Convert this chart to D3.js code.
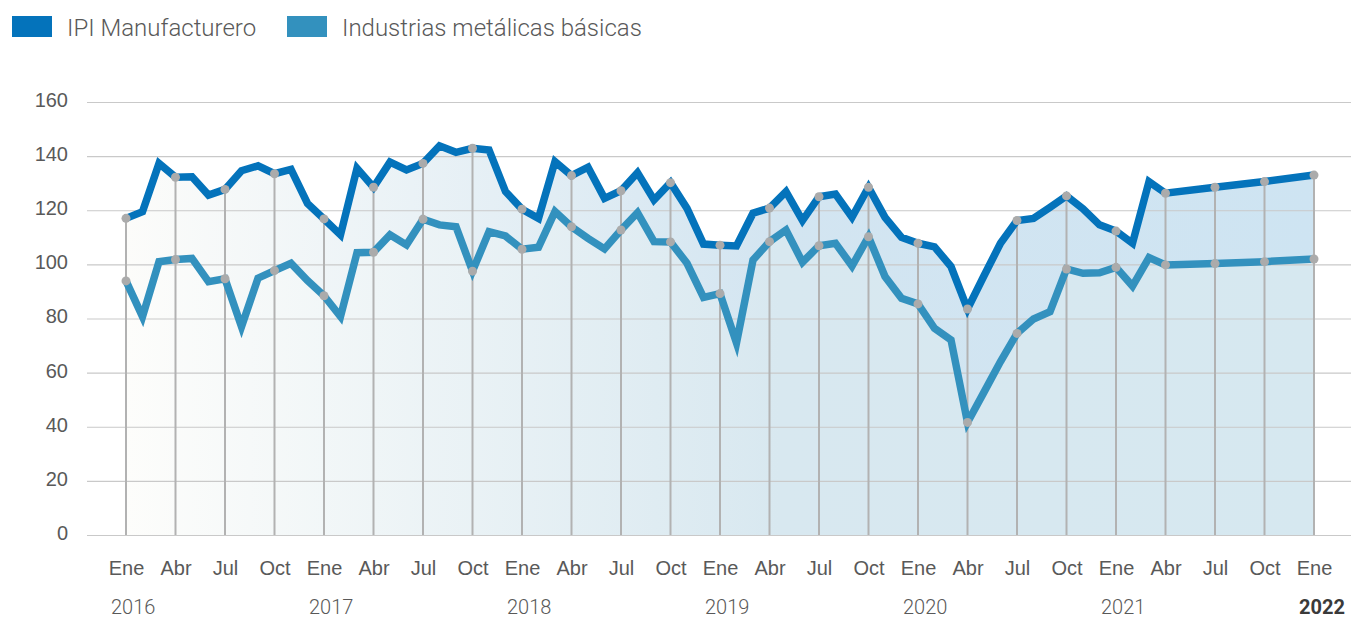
<!DOCTYPE html>
<html>
<head>
<meta charset="utf-8">
<script src="https://cdn.jsdelivr.net/npm/d3@7"></script>
<style>
  html, body { margin: 0; padding: 0; background: #fff; }
  svg { display: block; font-family: Roboto, "Open Sans", sans-serif; }
</style>
</head>
<body>
<svg id="chart" width="1351" height="619"></svg>
<script>
// month index: 0 = Ene 2016 ... 72 = Ene 2022
const monthIndex = [
  0,1,2,3,4,5,6,7,8,9,10,11,
  12,13,14,15,16,17,18,19,20,21,22,23,
  24,25,26,27,28,29,30,31,32,33,34,35,
  36,37,38,39,40,41,42,43,44,45,46,47,
  48,49,50,51,52,53,54,55,56,57,58,59,
  60,61,62,63,66,69,72
];
const ipiManufacturero = [
  117.0,119.5,137.3,132.2,132.4,125.6,127.7,134.6,136.4,133.5,135.1,122.5,
  116.8,110.9,135.5,128.5,137.8,134.9,137.3,143.8,141.4,142.9,142.3,126.9,
  120.4,117.0,138.0,132.8,135.9,124.4,127.2,133.9,123.8,130.2,120.7,107.5,
  107.1,106.8,118.9,120.8,126.9,116.2,125.0,126.0,117.4,128.5,117.4,110.0,
  107.8,106.5,99.2,83.5,95.8,107.8,116.2,117.0,121.1,125.3,120.5,114.6,
  112.3,107.8,130.6,126.3,128.5,130.6,133.0
];
const metalicasBasicas = [
  93.9,80.7,101.0,101.8,102.2,93.6,94.7,77.0,94.9,97.7,100.4,94.0,
  88.4,80.7,104.3,104.5,110.9,107.2,116.7,114.6,113.9,97.5,112.1,110.5,
  105.6,106.3,119.5,113.9,109.6,105.7,112.7,119.1,108.4,108.3,100.4,87.8,
  89.2,71.0,101.6,108.4,112.7,100.8,106.9,107.8,99.4,110.2,95.5,87.5,
  85.4,76.4,72.1,41.6,52.8,64.1,74.5,79.8,82.5,98.3,96.7,96.9,
  98.9,92.0,102.5,99.8,100.3,101.0,102.0
];
const seriesNames = ["IPI Manufacturero", "Industrias metálicas básicas"];
const seriesColors = ["#0473bb", "#3391be"];
const quarterLabels = ["Ene","Abr","Jul","Oct"];
const yearLabels = ["2016","2017","2018","2019","2020","2021","2022"];
const yTicks = [0,20,40,60,80,100,120,140,160];

const svg = d3.select("#chart");
const x = d3.scaleLinear().domain([0, 72]).range([126, 1314]);
const y = d3.scaleLinear().domain([0, 160]).range([535, 102]);

const data = monthIndex.map((m, i) => ({ m, a: ipiManufacturero[i], b: metalicasBasicas[i] }));
const quarterly = data.filter(d => d.m % 3 === 0);

// gradients
const defs = svg.append("defs");
function grad(id, c0, c1, c2) {
  const g = defs.append("linearGradient").attr("id", id)
    .attr("gradientUnits", "userSpaceOnUse")
    .attr("x1", x(0)).attr("x2", x(72)).attr("y1", 0).attr("y2", 0);
  g.append("stop").attr("offset", "0%").attr("stop-color", c0);
  g.append("stop").attr("offset", "55%").attr("stop-color", c1);
  g.append("stop").attr("offset", "100%").attr("stop-color", c2);
}
grad("gA", "#fcfcfa", "#d3e5f1", "#cee4f2");
grad("gB", "#fdfdfb", "#d8e8f0", "#d6e8f0");

const areaA = d3.area().x(d => x(d.m)).y0(y(0)).y1(d => y(d.a));
const areaB = d3.area().x(d => x(d.m)).y0(y(0)).y1(d => y(d.b));
svg.append("path").datum(data).attr("d", areaA).attr("fill", "url(#gA)");
svg.append("path").datum(data).attr("d", areaB).attr("fill", "url(#gB)");

// horizontal grid + y labels
const yAxis = d3.axisLeft(y).tickValues(yTicks).tickSize(-(1351 - 87)).tickPadding(19);
const gy = svg.append("g").attr("transform", "translate(87,0)").call(yAxis);
gy.select(".domain").remove();
gy.selectAll(".tick line").attr("stroke", "#c9c9c9").attr("stroke-width", 1.2);
gy.selectAll(".tick text").attr("fill", "#595959").attr("font-size", 20).attr("font-weight", 300).attr("dy", "0.22em");

// vertical drop lines
svg.append("g").selectAll("line").data(quarterly).join("line")
  .attr("x1", d => x(d.m)).attr("x2", d => x(d.m))
  .attr("y1", d => y(d.a)).attr("y2", y(0))
  .attr("stroke", "#b2b2b2").attr("stroke-width", 2);

// series lines
const lineA = d3.line().x(d => x(d.m)).y(d => y(d.a));
const lineB = d3.line().x(d => x(d.m)).y(d => y(d.b));
svg.append("path").datum(data).attr("d", lineB).attr("fill", "none")
  .attr("stroke", seriesColors[1]).attr("stroke-width", 7.5).attr("stroke-linejoin", "miter");
svg.append("path").datum(data).attr("d", lineA).attr("fill", "none")
  .attr("stroke", seriesColors[0]).attr("stroke-width", 7.5).attr("stroke-linejoin", "miter");

// dots
svg.append("g").selectAll("circle").data(quarterly.flatMap(d => [[d.m, d.a], [d.m, d.b]])).join("circle")
  .attr("cx", d => x(d[0])).attr("cy", d => y(d[1])).attr("r", 4.5).attr("fill", "#ababab");

// x axis labels
const xTicks = d3.range(0, 73, 3);
const xAxis = d3.axisBottom(x).tickValues(xTicks).tickSize(0).tickPadding(26)
  .tickFormat(m => quarterLabels[(m / 3) % 4]);
const gx = svg.append("g").attr("transform", `translate(0,${y(0)})`).call(xAxis);
gx.select(".domain").remove();
gx.selectAll(".tick text").attr("fill", "#595959").attr("font-size", 20).attr("font-weight", 300);

// year labels
svg.append("g").selectAll("text").data(yearLabels).join("text")
  .attr("x", (d, i) => x(i * 12) - 15)
  .attr("y", 614)
  .attr("fill", (d, i) => i === yearLabels.length - 1 ? "#3a3a3a" : "#595959")
  .attr("font-size", 20)
  .attr("font-weight", (d, i) => i === yearLabels.length - 1 ? 700 : 300)
  .text(d => d);

// legend
const legendX = [12, 287];
const lg = svg.append("g");
seriesNames.forEach((name, i) => {
  lg.append("rect").attr("x", legendX[i]).attr("y", 16).attr("width", 40).attr("height", 21)
    .attr("fill", seriesColors[i]);
  lg.append("text").attr("x", legendX[i] + 55).attr("y", 36)
    .attr("font-size", 24).attr("font-weight", 300).attr("fill", "#595959").text(name);
});
</script>
</body>
</html>
